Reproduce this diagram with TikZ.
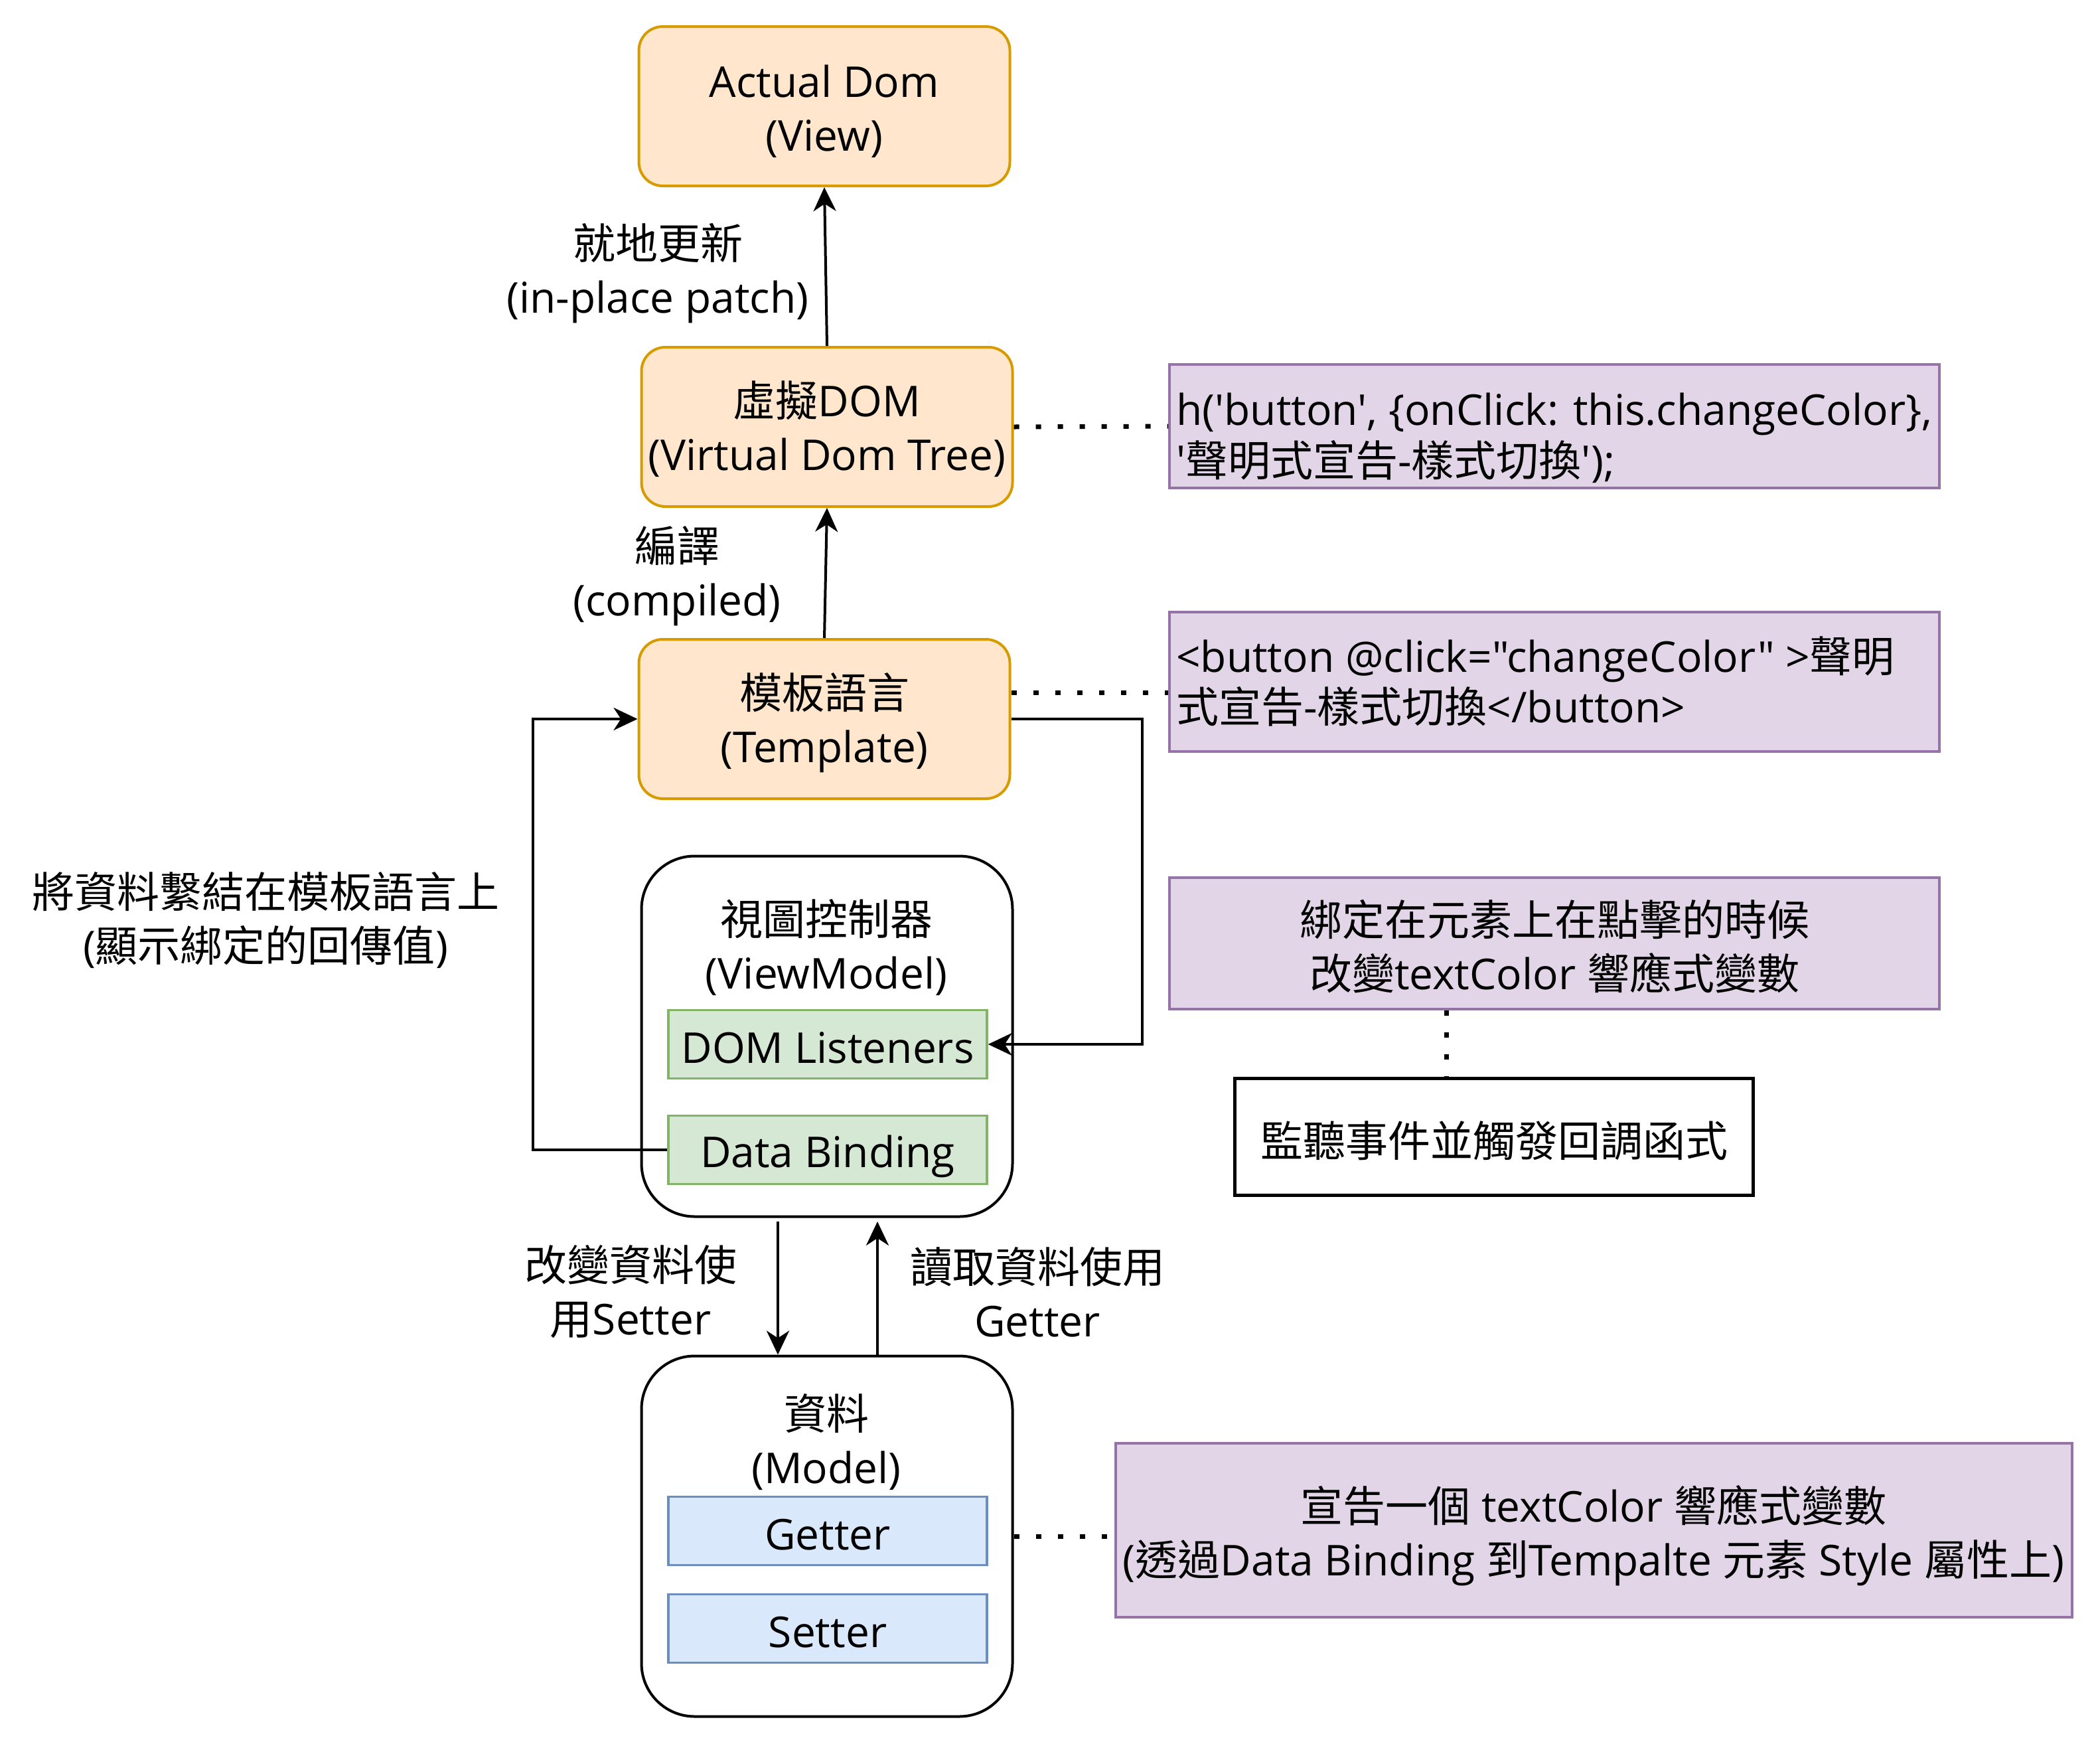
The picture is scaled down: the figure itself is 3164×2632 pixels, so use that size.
\documentclass[tikz,border=0pt]{standalone}
\usepackage{fontspec}
\usetikzlibrary{arrows.meta}
\newfontfamily\lat{Open Sans}
\newfontfamily\cjk{Noto Sans CJK TC}
\newcommand\zh[1]{{\cjk #1}}
\definecolor{ofill}{HTML}{FFE6CC}
\definecolor{oline}{HTML}{D79B00}
\definecolor{pfill}{HTML}{E1D5E7}
\definecolor{pline}{HTML}{9673A6}
\definecolor{gfill}{HTML}{D5E8D4}
\definecolor{gline}{HTML}{82B366}
\definecolor{bfill}{HTML}{DAE8FC}
\definecolor{bline}{HTML}{6C8EBF}
\begin{document}
\begin{tikzpicture}[x=1pt,y=-1pt,
  every node/.style={font=\lat\fontsize{64}{81}\selectfont, inner sep=0pt, align=center},
  obox/.style={draw=oline, fill=ofill, line width=4pt, rounded corners=36pt, minimum width=559pt, minimum height=240pt},
  rbox/.style={draw=black, fill=white, line width=4pt, rounded corners=80pt, minimum width=559pt, minimum height=543pt},
  gbox/.style={draw=gline, fill=gfill, line width=3.5pt, minimum width=480pt, minimum height=103pt},
  bbox/.style={draw=bline, fill=bfill, line width=3.5pt, minimum width=480pt, minimum height=103pt},
  pbox/.style={draw=pline, fill=pfill, line width=4pt},
  wbox/.style={draw=black, fill=white, line width=5pt},
  conn/.style={draw, line width=4pt, -{Stealth[length=36pt,width=34pt,inset=11pt]}},
  dotline/.style={draw, line width=7pt, dash pattern=on 8pt off 25pt}
]
\useasboundingbox (0,0) rectangle (3164,2632);

% main column boxes
\node[obox] (actual) at (1242,160) {};
\node (actualt) at (1242,168) {Actual Dom\\(View)};
\node[obox] (vdom) at (1246,643) {};
\node (vdomt) at (1246,646) {\zh{虛擬}DOM\\(Virtual Dom Tree)};
\node[obox] (tmpl) at (1242,1083) {};
\node (tmplt) at (1242,1089) {\zh{模板語言}\\(Template)};
\node[rbox] (vm) at (1246,1561) {};
\node (vmt) at (1245,1427) {\zh{視圖控制器}\\(ViewModel)};
\node[gbox] (doml) at (1247,1573) {};
\node (domlt) at (1247,1578) {DOM Listeners};
\node[gbox] (dbind) at (1247,1732) {};
\node (dbindt) at (1247,1742) {Data Binding};
\node[rbox] (model) at (1246,2314) {};
\node (modelt) at (1245,2172) {\zh{資料}\\(Model)};
\node[bbox] (getter) at (1247,2306) {};
\node (gettert) at (1247,2312) {Getter};
\node[bbox] (setter) at (1247,2453) {};
\node (settert) at (1247,2459) {Setter};

% notes
\node[pbox, minimum width=1160pt, minimum height=186pt] (p1) at (2342,642) {};
\node[anchor=west, align=left, font=\lat\fontsize{64}{77}\selectfont] (p1t) at (1772,660) {h('button', \{onClick: this.changeColor\},\\'\zh{聲明式宣告}-\zh{樣式切換}');};
\node[pbox, minimum width=1160pt, minimum height=210pt] (p2) at (2342,1027) {};
\node[anchor=west, align=left, font=\lat\fontsize{64}{76}\selectfont] (p2t) at (1772,1026) {<button @click="changeColor" >\zh{聲明}\\\zh{式宣告}-\zh{樣式切換}</button>};
\node[pbox, minimum width=1160pt, minimum height=198pt] (p3) at (2342,1421) {};
\node (p3t) at (2342,1426) {\zh{綁定在元素上在點擊的時候}\\\zh{改變}textColor \zh{響應式變數}};
\node[wbox, minimum width=781pt, minimum height=176pt] (wb) at (2251,1712) {};
\node (wbt) at (2251,1718) {\zh{監聽事件並觸發回調函式}};
\node[pbox, minimum width=1441pt, minimum height=262pt] (p4) at (2401,2305) {};
\node (p4t) at (2401,2313) {\zh{宣告一個} textColor \zh{響應式變數}\\(\zh{透過}Data Binding \zh{到}Tempalte \zh{元素} Style \zh{屬性上})};

% labels
\node (lpatch) at (991,412) {\zh{就地更新}\\(in-place patch)};
\node (lcomp) at (1020,868) {\zh{編譯}\\(compiled)};
\node (lbind) at (400,1386) {\zh{將資料繫結在模板語言上}\\(\zh{顯示綁定的回傳值})};
\node (lset) at (950,1946) {\zh{改變資料使}\\\zh{用}Setter};
\node (lget) at (1563,1946) {\zh{讀取資料使用}\\Getter};

% helper coordinates
\coordinate (rx) at (1721,0);
\coordinate (lx) at (803,0);
\coordinate (dn) at (1172,1840);
\coordinate (up) at (1322,1840);
\coordinate (ty) at (0,1043);
\coordinate (vx) at (2179,0);

% connectors
\draw[conn] (vdom.north) -- (actual.south);
\draw[conn] (tmpl.north) -- (vdom.south);
\draw[conn] (tmpl.east) -- (tmpl.east -| rx) |- (doml.east);
\draw[conn] (dbind.west) -- (dbind.west -| lx) |- (tmpl.west);
\draw[conn] (dn) -- (dn |- model.north);
\draw[conn] (up |- model.north) -- (up);

% dotted links
\draw[dotline] (vdom.east) -- (p1.west);
\draw[dotline] (ty -| tmpl.east) -- (ty -| p2.west);
\draw[dotline] (vx |- p3.south) -- (vx |- wb.north);
\draw[dotline] (model.east) -- (model.east -| p4.west);
\end{tikzpicture}
\end{document}
